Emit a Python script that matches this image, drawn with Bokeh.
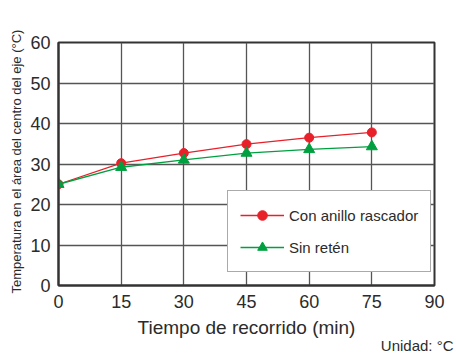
from bokeh.plotting import figure
from bokeh.models import Range1d, FixedTicker, Legend, LegendItem, Title
from bokeh.embed import file_html
from bokeh.resources import INLINE

time_min = [0, 15, 30, 45, 60, 75]
con_anillo = [25.0, 30.2, 32.7, 34.9, 36.5, 37.8]
sin_reten = [25.0, 29.2, 31.0, 32.7, 33.6, 34.3]
x_ticks = [0, 15, 30, 45, 60, 75, 90]
y_ticks = [0, 10, 20, 30, 40, 50, 60]

RED = "#e8202a"
GREEN = "#00a040"
FONT = "Liberation Sans"
TXT = "#2b2b2b"

p = figure(width=456, height=361, output_backend="svg", toolbar_location=None,
           x_range=Range1d(0, 90), y_range=Range1d(0, 60),
           min_border_left=58, min_border_right=22, min_border_top=42, min_border_bottom=76)
p.background_fill_color = "white"
p.border_fill_color = "white"
p.outline_line_color = "#333333"
p.outline_line_width = 2

for ax in (p.xaxis, p.yaxis):
    ax.axis_line_color = "#333333"
    ax.axis_line_width = 2
    ax.major_tick_line_color = None
    ax.minor_tick_line_color = None
    ax.major_label_text_font = FONT
    ax.major_label_text_font_size = "18px"
    ax.major_label_text_color = TXT

p.xaxis.ticker = FixedTicker(ticks=x_ticks)
p.yaxis.ticker = FixedTicker(ticks=y_ticks)
p.xaxis.major_label_standoff = 3
p.yaxis.major_label_standoff = 2
p.xaxis.axis_label = "Tiempo de recorrido (min)"
p.xaxis.axis_label_text_font = FONT
p.xaxis.axis_label_text_font_size = "19px"
p.xaxis.axis_label_text_font_style = "normal"
p.xaxis.axis_label_text_color = TXT
p.xaxis.axis_label_standoff = 6

p.xgrid.grid_line_color = "#555555"
p.ygrid.grid_line_color = "#555555"
p.xgrid.grid_line_width = 1.3
p.ygrid.grid_line_width = 1.3

r1 = p.line(time_min, con_anillo, line_color=RED, line_width=1.3)
s1 = p.scatter(time_min, con_anillo, marker="circle", size=9, fill_color=RED, line_color=RED)
r2 = p.line(time_min, sin_reten, line_color=GREEN, line_width=1.3)
s2 = p.scatter(time_min, sin_reten, marker="triangle", size=11, fill_color=GREEN, line_color=GREEN)

legend = Legend(items=[LegendItem(label="Con anillo rascador", renderers=[r1, s1]),
                       LegendItem(label="Sin retén", renderers=[r2, s2])],
                location=(169, 13), padding=12, spacing=8,
                glyph_width=44, glyph_height=24, label_height=24, label_standoff=5,
                label_text_font=FONT, label_text_font_size="15px", label_text_color=TXT,
                border_line_color="#555555", border_line_width=1.3,
                background_fill_color="white", background_fill_alpha=1.0)
p.add_layout(legend, "center")

ytitle = Title(text="Temperatura en el área del centro del eje (°C)", align="left", offset=-8,
               standoff=8, text_font=FONT, text_font_size="13px", text_font_style="normal",
               text_color=TXT)
p.add_layout(ytitle, "left")

unit = Title(text="Unidad: °C", align="right", standoff=-12, offset=-19,
             text_font=FONT, text_font_size="15px", text_font_style="normal",
             text_color=TXT)
p.add_layout(unit, "below")

open("out.html", "w").write(file_html(p, INLINE))
